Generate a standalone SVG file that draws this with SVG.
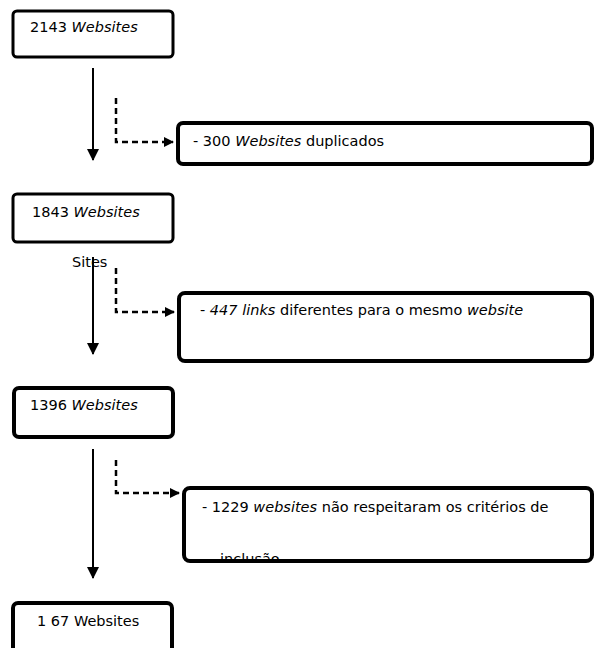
<svg xmlns="http://www.w3.org/2000/svg" width="595" height="648" viewBox="0 0 595 648">
<style>
.box{fill:#fff;stroke:#000;stroke-width:3}
.side{fill:#fff;stroke:#000;stroke-width:4}
.t{font-family:"DejaVu Sans","Liberation Sans",Arial,sans-serif;font-size:14.5px;fill:#000}
.i{font-style:italic}
.main{stroke:#000;stroke-width:2;fill:none}
.dash{stroke:#000;stroke-width:2.5;stroke-dasharray:6,4;fill:none}
</style>
<defs>
<marker id="ah" markerWidth="10" markerHeight="10" refX="9" refY="5" orient="auto" markerUnits="userSpaceOnUse">
<path d="M0,0 L10,5 L0,10 z" fill="#000"/>
</marker>
<marker id="ahm" markerWidth="12" markerHeight="12" refX="11" refY="6" orient="auto" markerUnits="userSpaceOnUse">
<path d="M0,0 L12,6 L0,12 z" fill="#000"/>
</marker>
<clipPath id="clip3"><rect x="184" y="488" width="408" height="71"/></clipPath>
</defs>
<g id="connectors">
<line class="main" x1="93" y1="68" x2="93" y2="160" marker-end="url(#ahm)"/>
<polyline class="dash" points="116,98 116,142 173,142" marker-end="url(#ah)"/>
<line class="main" x1="93" y1="257" x2="93" y2="354" marker-end="url(#ahm)"/>
<polyline class="dash" points="116,268 116,312 174,312" marker-end="url(#ah)"/>
<line class="main" x1="93" y1="449" x2="93" y2="578" marker-end="url(#ahm)"/>
<polyline class="dash" points="116,460 116,493 179,493" marker-end="url(#ah)"/>
</g>
<g id="n1">
<rect class="box" x="13" y="11" width="160" height="46" rx="4"/>
<text class="t" x="30" y="32">2143 <tspan class="i">Websites</tspan></text>
</g>
<g id="s1">
<rect class="side" x="178" y="123" width="414" height="41" rx="5"/>
<text class="t" x="193" y="146">- 300 <tspan class="i">Websites</tspan> duplicados</text>
</g>
<g id="n2">
<rect class="box" x="13" y="194" width="160" height="48" rx="4"/>
<text class="t" x="32" y="217">1843 <tspan class="i">Websites</tspan></text>
</g>
<text class="t" x="72" y="267">Sites</text>
<g id="s2">
<rect class="side" x="179" y="293" width="413" height="68" rx="6"/>
<text class="t" x="200" y="315">- <tspan class="i">447 links</tspan> diferentes para o mesmo <tspan class="i">website</tspan></text>
</g>
<g id="n3">
<rect class="box" x="14" y="388" width="159" height="49" rx="5" style="stroke-width:4"/>
<text class="t" x="30" y="410">1396 <tspan class="i">Websites</tspan></text>
</g>
<g id="s3">
<text class="t" x="220" y="564" clip-path="url(#clip3)">inclusão</text>
<rect x="184" y="488" width="408" height="73" rx="6" fill="none" stroke="#000" stroke-width="4"/>
<text class="t" x="202" y="512">- 1229 <tspan class="i">websites</tspan> não respeitaram os critérios de</text>
</g>
<g id="n4">
<rect class="box" x="13" y="603" width="159" height="50" rx="5" style="stroke-width:4"/>
<text class="t" x="37" y="626">1 67 Websites</text>
</g>
</svg>
